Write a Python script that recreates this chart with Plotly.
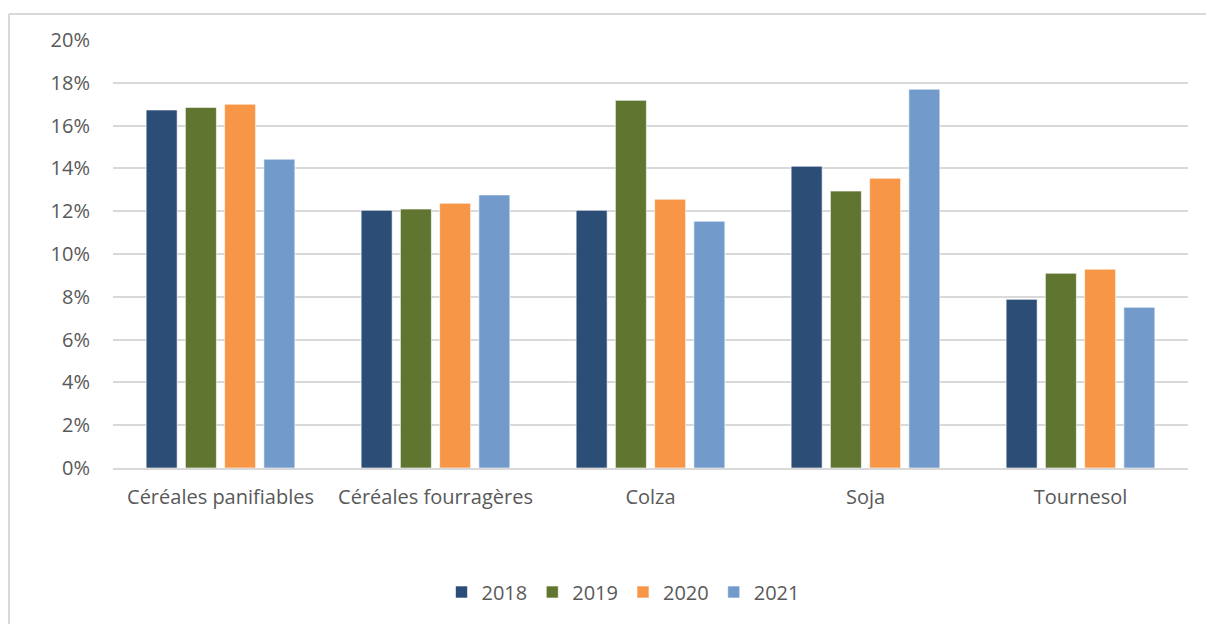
import plotly.graph_objects as go

categories = ["Céréales panifiables", "Céréales fourragères", "Colza", "Soja", "Tournesol"]
years = ["2018", "2019", "2020", "2021"]
v2018 = [16.73, 12.04, 12.04, 14.10, 7.88]
v2019 = [16.85, 12.10, 17.18, 12.94, 9.10]
v2020 = [17.00, 12.37, 12.56, 13.54, 9.29]
v2021 = [14.43, 12.76, 11.53, 17.70, 7.51]
y_ticks = [0, 2, 4, 6, 8, 10, 12, 14, 16, 18, 20]
y_tick_labels = [f"{v}%" for v in y_ticks]

series = [v2018, v2019, v2020, v2021]
colors = ["#2C4D75", "#5F7530", "#F79646", "#729ACA"]

W, H = 1214, 624
OFF = 8  # page body margin offset
# desired plot area in screen pixels: x 113..1188, y 40..468
L, T = 113 - OFF, 40 - OFF
R = (W + OFF) - 1188
B = (H + OFF) - 468
pw, ph = W - L - R, H - T - B

def px_x(sx):
    return (sx - OFF - L) / pw

def px_y(sy):
    return (H - B - (sy - OFF)) / ph

fig = go.Figure()
for name, vals, col in zip(years, series, colors):
    fig.add_trace(go.Bar(
        x=categories, y=vals, name=name,
        marker=dict(color=col, line=dict(color="rgba(255,255,255,0.6)", width=1)),
    ))

font = "Open Sans, sans-serif"
fig.update_layout(
    width=W, height=H,
    margin=dict(l=L, r=R, t=T, b=B),
    paper_bgcolor="white", plot_bgcolor="white",
    barmode="group", bargap=0.27, bargroupgap=0.21,
    font=dict(family=font, color="#595959", size=20),
    showlegend=True,
    legend=dict(orientation="h", x=px_x(623), y=px_y(592),
                xanchor="center", yanchor="middle",
                font=dict(size=20, color="#595959"), itemwidth=30,
                traceorder="normal"),
    xaxis=dict(showgrid=False, showline=True, linecolor="#d9d9d9", linewidth=2,
               ticks="", ticklabelstandoff=10,
               tickfont=dict(size=20, color="#595959")),
    yaxis=dict(range=[0, 20], tickmode="array", tickvals=y_ticks, ticktext=y_tick_labels,
               showgrid=True, gridcolor="#d9d9d9", gridwidth=2,
               zeroline=False, showline=False, ticks="",
               ticklabelstandoff=22,
               tickfont=dict(size=20, color="#595959")),
    shapes=[
        dict(type="line", xref="paper", yref="paper",
             x0=px_x(9), x1=px_x(W + 20),
             y0=px_y(14), y1=px_y(14),
             line=dict(color="#d9d9d9", width=2)),
        dict(type="line", xref="paper", yref="paper",
             x0=px_x(9), x1=px_x(9),
             y0=px_y(14), y1=px_y(H + 20),
             line=dict(color="#d9d9d9", width=2)),
    ],
)

fig.write_html("out.html")
